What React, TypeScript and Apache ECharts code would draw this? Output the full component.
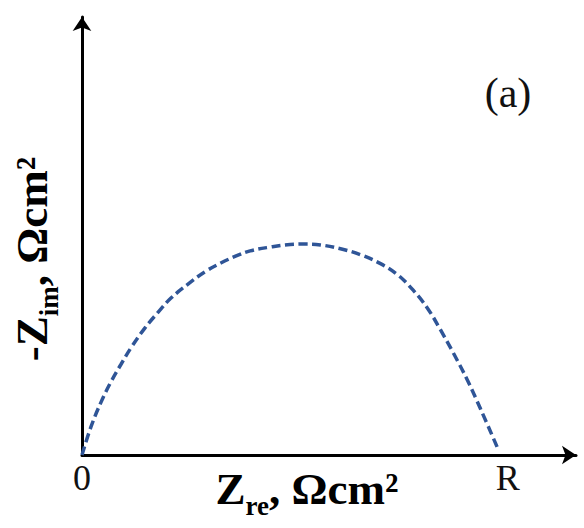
import React, { useEffect, useRef } from "react";
import * as echarts from "echarts";

// Nyquist-type semicircle (arbitrary units, R = 100)
const zRe: number[] = [0, 2.1, 4.5, 6.8, 9.2, 11.5, 14.8, 17.9, 20.9, 24.9, 28.9, 32.7, 36.2, 39.5, 44.2, 48.9, 52.5, 56.0, 60.7, 65.4, 70.1, 74.1, 77.9, 81.2, 84.2, 87.3, 90.6, 93.6, 97.6];
const zIm: number[] = [0, 6.6, 12.5, 17.2, 21.4, 25.2, 29.9, 33.6, 36.9, 40.2, 43.1, 45.2, 46.8, 48.0, 48.9, 49.5, 49.6, 49.4, 48.5, 47.1, 45.0, 42.4, 38.6, 34.4, 29.4, 23.8, 17.4, 10.8, 1.6];
const tickValues: number[] = [0, 100];
const tickLabels: string[] = ["0", "R"];

const SERIF = "'Liberation Serif', 'Times New Roman', serif";

export default function App() {
  const ref = useRef<HTMLDivElement>(null);
  useEffect(() => {
    document.body.style.margin = "0";
    if (!ref.current) return;
    const chart = echarts.init(ref.current, undefined, { renderer: "svg" });
    const data = zRe.map((x, i) => [x, zIm[i]]);
    chart.setOption({
      animation: false,
      grid: { left: 82, right: 8, top: 17, bottom: 73, containLabel: false },
      xAxis: {
        type: "value",
        min: 0,
        max: 116,
        interval: 100,
        axisLine: {
          show: true,
          symbol: ["none", "arrow"],
          symbolSize: [14, 14],
          lineStyle: { color: "#000", width: 3 },
        },
        axisTick: { show: false },
        splitLine: { show: false },
        axisLabel: {
          show: true,
          margin: 5,
          fontFamily: SERIF,
          fontSize: 36,
          color: "#111",
          verticalAlign: "top",
          showMaxLabel: false,
          formatter: (v: number) => {
            const idx = tickValues.indexOf(v);
            return idx >= 0 ? tickLabels[idx] : "";
          },
        },
      },
      yAxis: {
        type: "value",
        min: 0,
        max: 103,
        axisLine: {
          show: true,
          symbol: ["none", "arrow"],
          symbolSize: [14, 14],
          lineStyle: { color: "#000", width: 3 },
        },
        axisTick: { show: false },
        splitLine: { show: false },
        axisLabel: { show: false },
      },
      series: [
        {
          type: "line",
          data,
          smooth: 0.4,
          showSymbol: false,
          lineStyle: { color: "#2f5597", width: 3.5, type: [9, 4.5] },
        },
      ],
      graphic: [
        {
          type: "text",
          x: 307,
          y: 489,
          style: {
            text: "{m|Z}{s|re}{m|, Ωcm²}",
            align: "center",
            verticalAlign: "middle",
            fill: "#000",
            rich: {
              m: { fontFamily: SERIF, fontWeight: "bold", fontSize: 45, lineHeight: 60, fill: "#000" },
              s: { fontFamily: SERIF, fontWeight: "bold", fontSize: 27, lineHeight: 27, verticalAlign: "bottom", fill: "#000" },
            },
          },
        },
        {
          type: "text",
          x: 32,
          y: 259,
          rotation: Math.PI / 2,
          style: {
            text: "{m|-Z}{s|im}{m|, Ωcm²}",
            align: "center",
            verticalAlign: "middle",
            fill: "#000",
            rich: {
              m: { fontFamily: SERIF, fontWeight: "bold", fontSize: 45, lineHeight: 60, fill: "#000" },
              s: { fontFamily: SERIF, fontWeight: "bold", fontSize: 27, lineHeight: 27, verticalAlign: "bottom", fill: "#000" },
            },
          },
        },
        {
          type: "text",
          x: 508,
          y: 93,
          style: {
            text: "(a)",
            align: "center",
            verticalAlign: "middle",
            fontFamily: SERIF,
            fontSize: 42,
            fill: "#111",
          },
        },
      ],
    });
    return () => chart.dispose();
  }, []);
  return <div ref={ref} style={{ width: 584, height: 528 }} />;
}
